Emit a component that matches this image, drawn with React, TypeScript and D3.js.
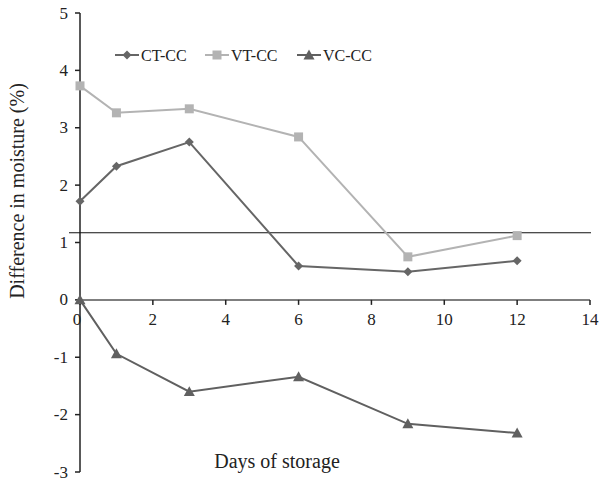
import React from "react";
import * as d3 from "d3";

const days = [0, 1, 3, 6, 9, 12];
const ctcc = [1.72, 2.33, 2.75, 0.59, 0.49, 0.68];
const vtcc = [3.73, 3.26, 3.33, 2.84, 0.75, 1.12];
const vccc = [0, -0.94, -1.6, -1.34, -2.16, -2.32];
const seriesNames = ["CT-CC", "VT-CC", "VC-CC"];
const xTicks = [0, 2, 4, 6, 8, 10, 12, 14];
const yTicks = [-3, -2, -1, 0, 1, 2, 3, 4, 5];
const refLine = 1.17;

const W = 600;
const H = 479;
const FONT = "'Liberation Serif', 'Times New Roman', serif";

export default function App() {
  const x = d3.scaleLinear().domain([0, 14]).range([80, 590]);
  const y = d3.scaleLinear().domain([-3, 5]).range([472, 13]);
  const line = d3
    .line<[number, number]>()
    .x((d) => x(d[0]))
    .y((d) => y(d[1]));

  const series = [
    { name: seriesNames[0], vals: ctcc, color: "#666666", shape: "diamond" },
    { name: seriesNames[1], vals: vtcc, color: "#b3b3b3", shape: "square" },
    { name: seriesNames[2], vals: vccc, color: "#606060", shape: "triangle" },
  ];

  const marker = (shape: string, cx: number, cy: number, color: string, key: any) => {
    if (shape === "diamond") {
      const s = 4.5;
      return (
        <path key={key} d={`M${cx},${cy - s}L${cx + s},${cy}L${cx},${cy + s}L${cx - s},${cy}Z`} fill={color} />
      );
    }
    if (shape === "square") {
      const s = 4.5;
      return <rect key={key} x={cx - s} y={cy - s} width={2 * s} height={2 * s} fill={color} />;
    }
    const s = 5.5;
    return (
      <path key={key} d={`M${cx},${cy - s}L${cx + s},${cy + s * 0.8}L${cx - s},${cy + s * 0.8}Z`} fill={color} />
    );
  };

  const legendX = [115, 205, 297];
  const legendY = 55;

  return (
    <svg width={W} height={H} style={{ position: "absolute", left: 0, top: 0, background: "#fff" }} fontFamily={FONT}>
      <rect width={W} height={H} fill="#fff" />
      {/* y axis */}
      <line x1={80} x2={80} y1={y(5)} y2={y(-3)} stroke="#222" strokeWidth={1.5} />
      {yTicks.map((t) => (
        <g key={"y" + t}>
          <line x1={75} x2={80} y1={y(t)} y2={y(t)} stroke="#222" strokeWidth={1.5} />
          <text x={68} y={y(t)} dy="0.33em" textAnchor="end" fontSize={17} fill="#222">
            {t}
          </text>
        </g>
      ))}
      {/* x axis at zero */}
      <line x1={x(0)} x2={x(14)} y1={y(0)} y2={y(0)} stroke="#555" strokeWidth={1.5} />
      {xTicks.map((t) => (
        <g key={"x" + t}>
          <line x1={x(t)} x2={x(t)} y1={y(0)} y2={y(0) + 5} stroke="#222" strokeWidth={1.5} />
          <text x={x(t) - (t === 0 ? 3 : 0)} y={y(0) + 25} textAnchor="middle" fontSize={17} fill="#222">
            {t}
          </text>
        </g>
      ))}
      {/* reference line */}
      <line x1={69} x2={591} y1={y(refLine)} y2={y(refLine)} stroke="#111" strokeWidth={1.2} />
      {/* series */}
      {series.map((s) => {
        const pts = days.map((d, i) => [d, s.vals[i]] as [number, number]);
        return (
          <g key={s.name}>
            <path d={line(pts) || ""} fill="none" stroke={s.color} strokeWidth={2} />
            {pts.map((p, i) => marker(s.shape, x(p[0]), y(p[1]), s.color, i))}
          </g>
        );
      })}
      {/* legend */}
      {series.map((s, i) => (
        <g key={"lg" + s.name}>
          <line x1={legendX[i]} x2={legendX[i] + 24} y1={legendY} y2={legendY} stroke={s.color} strokeWidth={2} />
          {marker(s.shape, legendX[i] + 12, legendY, s.color, "m")}
          <text x={legendX[i] + 26} y={legendY} dy="0.35em" fontSize={16} fill="#222">
            {s.name}
          </text>
        </g>
      ))}
      {/* axis titles */}
      <text x={277} y={468} textAnchor="middle" fontSize={20} fill="#222">
        Days of storage
      </text>
      <text
        transform={`translate(24,${(77 + 305) / 2}) rotate(-90)`}
        textAnchor="middle"
        fontSize={20}
        fill="#222"
      >
        Difference in moisture (%)
      </text>
    </svg>
  );
}
